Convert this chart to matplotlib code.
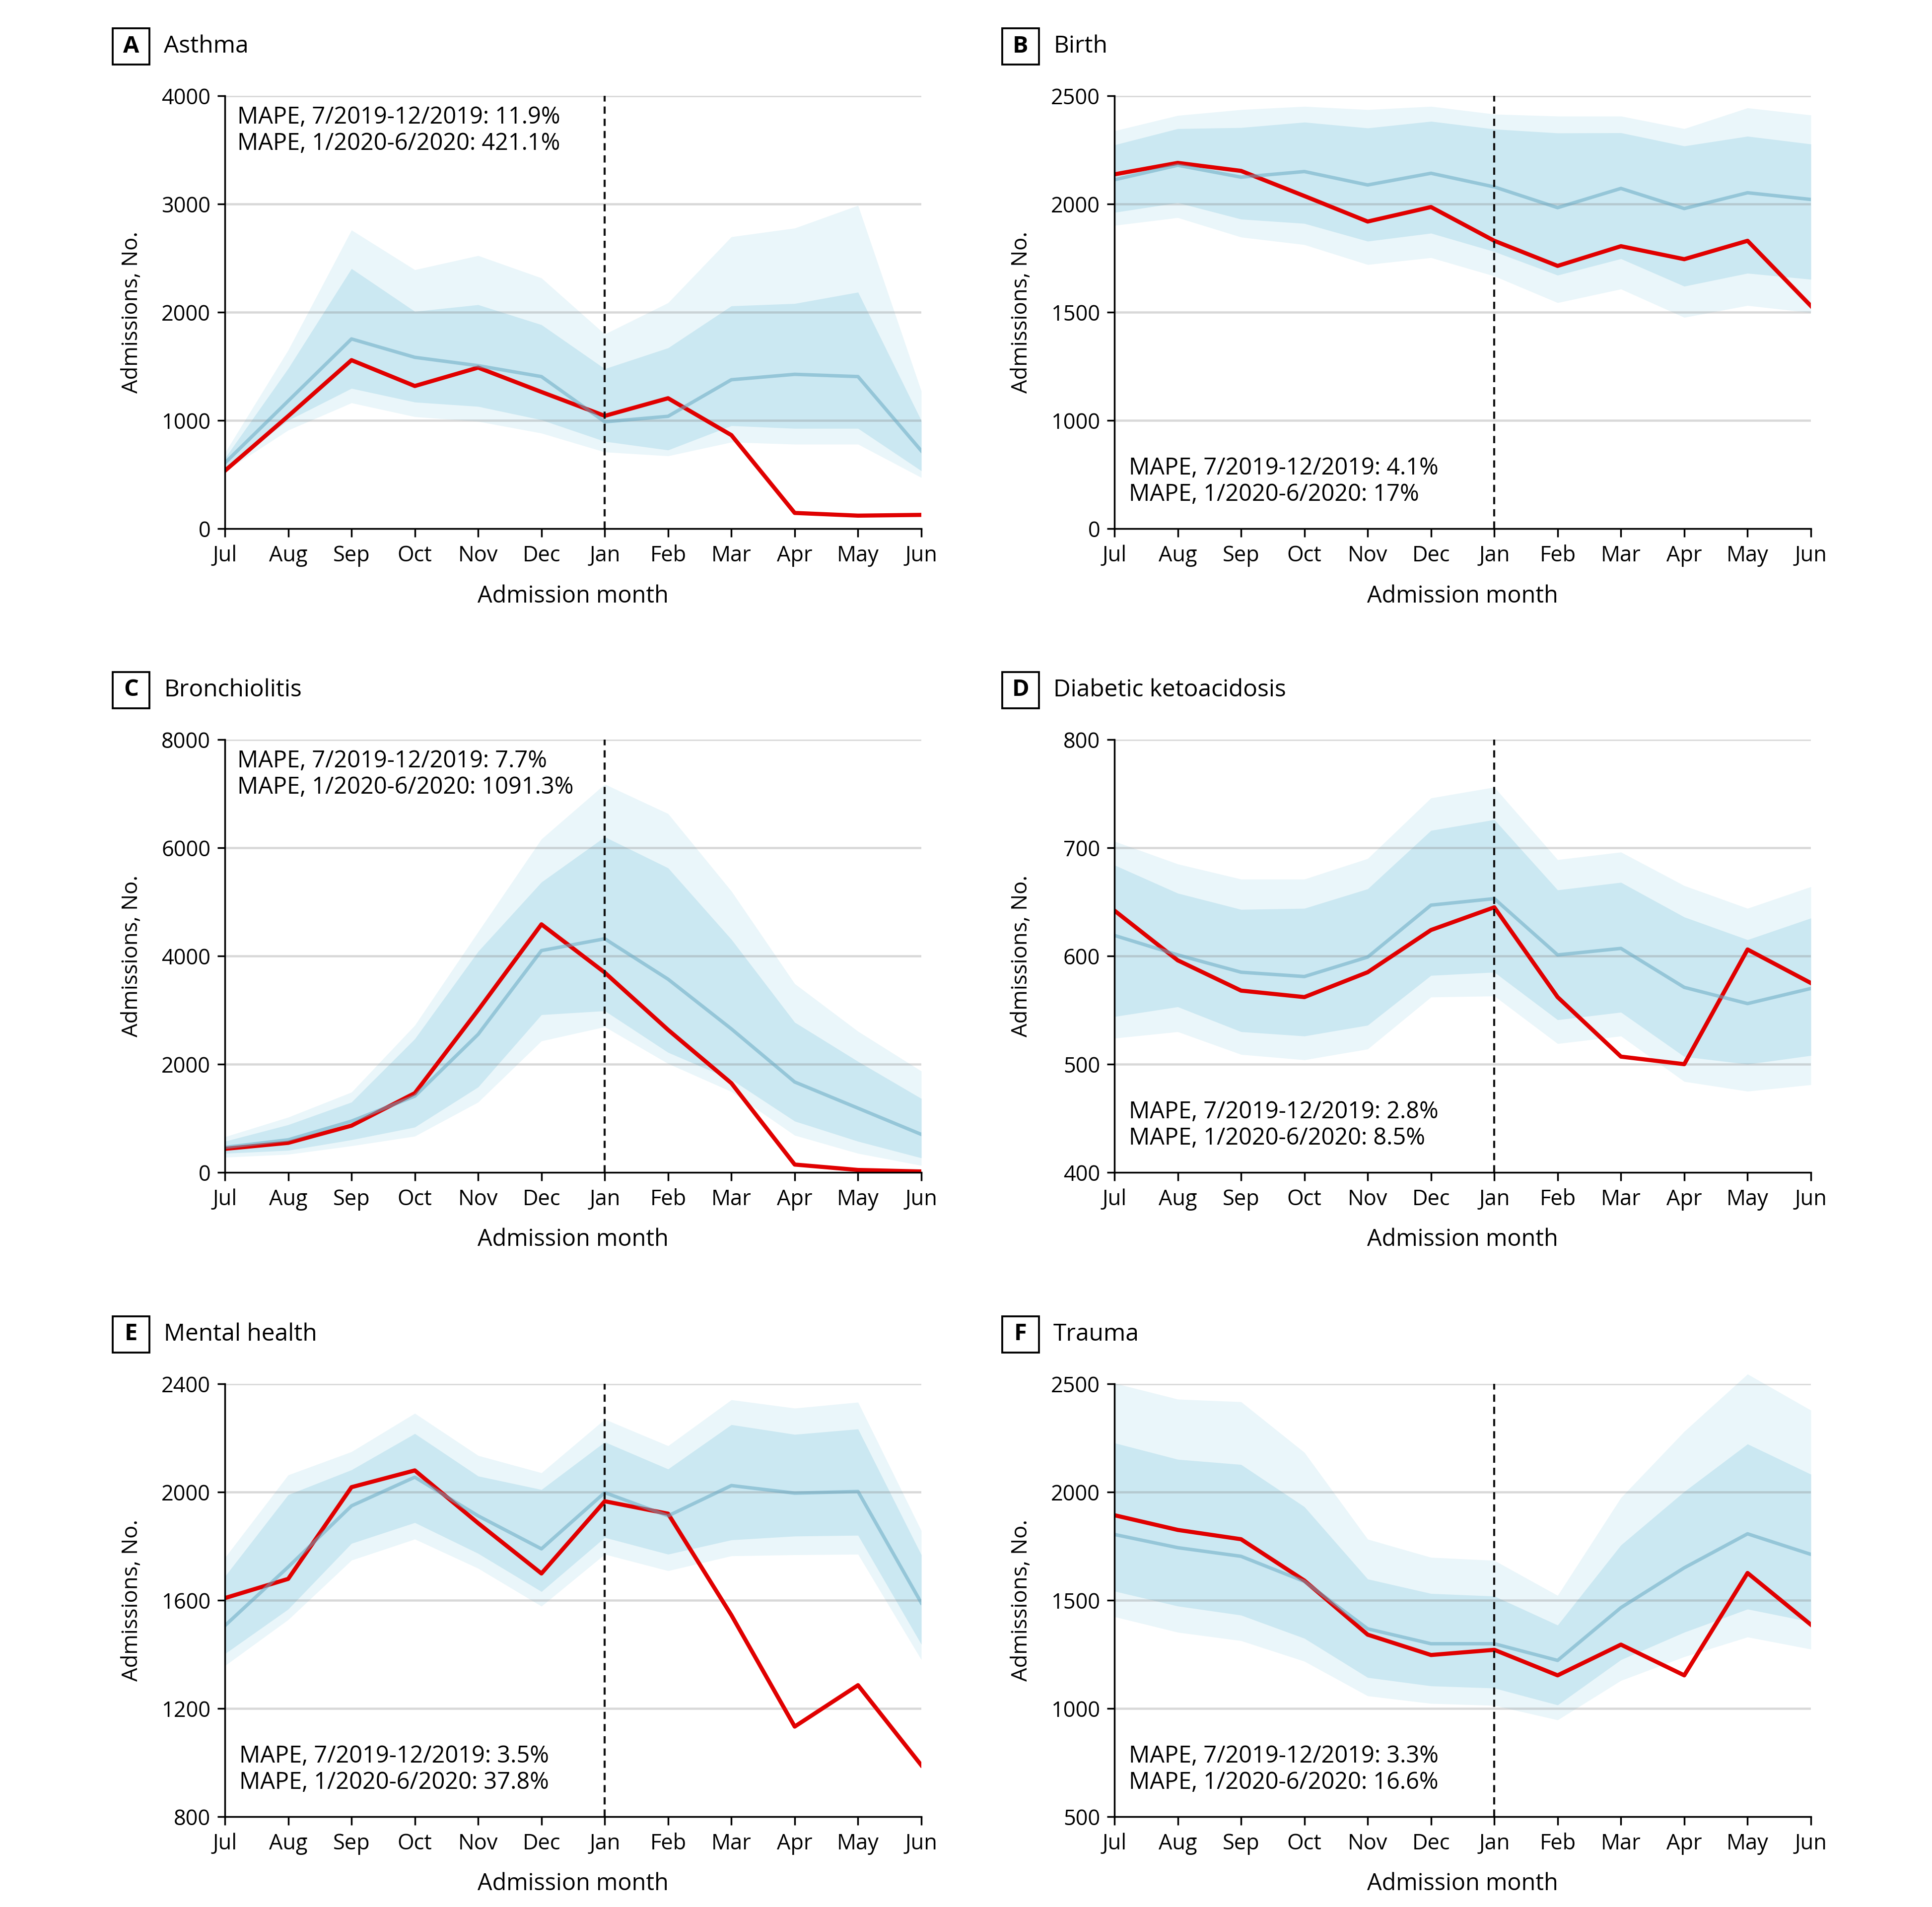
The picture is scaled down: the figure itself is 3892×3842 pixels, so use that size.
import numpy as np
import matplotlib.pyplot as plt
from matplotlib.patches import Rectangle

plt.rcParams['font.family'] = ['Open Sans', 'DejaVu Sans']

months = ['Jul', 'Aug', 'Sep', 'Oct', 'Nov', 'Dec', 'Jan', 'Feb', 'Mar', 'Apr', 'May', 'Jun']

# A Asthma
asthma_obs = [534, 1040, 1557, 1318, 1488, 1263, 1042, 1205, 864, 145, 120, 127]
asthma_pred = [606, 1180, 1753, 1583, 1506, 1405, 987, 1038, 1376, 1426, 1405, 719]
asthma_lo80 = [560, 1000, 1296, 1169, 1129, 1005, 806, 726, 951, 926, 926, 534]
asthma_hi80 = [650, 1480, 2403, 2007, 2069, 1884, 1477, 1670, 2058, 2080, 2185, 998]
asthma_lo95 = [530, 910, 1162, 1034, 991, 882, 708, 672, 799, 780, 780, 472]
asthma_hi95 = [700, 1650, 2759, 2392, 2523, 2316, 1797, 2087, 2697, 2777, 2987, 1270]

# B Birth
birth_obs = [2137, 2190, 2153, 2037, 1919, 1986, 1830, 1714, 1805, 1745, 1830, 1529]
birth_pred = [2112, 2179, 2124, 2150, 2088, 2142, 2079, 1983, 2072, 1979, 2052, 2021]
birth_lo80 = [1961, 2006, 1930, 1910, 1828, 1865, 1780, 1671, 1747, 1620, 1680, 1652]
birth_hi80 = [2273, 2348, 2353, 2378, 2351, 2382, 2346, 2328, 2329, 2268, 2313, 2277]
birth_lo95 = [1901, 1937, 1847, 1812, 1720, 1752, 1667, 1544, 1607, 1476, 1531, 1498]
birth_hi95 = [2338, 2409, 2436, 2451, 2436, 2451, 2415, 2406, 2406, 2348, 2444, 2411]

# C Bronchiolitis
bronch_obs = [435, 546, 864, 1465, 3000, 4585, 3694, 2635, 1649, 145, 45, 17]
bronch_pred = [462, 602, 947, 1409, 2552, 4100, 4318, 3571, 2652, 1671, 1187, 702]
bronch_lo80 = [351, 407, 602, 836, 1577, 2914, 2986, 2217, 1716, 947, 574, 267]
bronch_hi80 = [574, 880, 1298, 2468, 4084, 5365, 6201, 5627, 4306, 2774, 2050, 1365]
bronch_lo95 = [279, 334, 490, 669, 1298, 2429, 2691, 2011, 1493, 685, 351, 128]
bronch_hi95 = [657, 1019, 1482, 2719, 4446, 6162, 7175, 6630, 5198, 3487, 2607, 1872]

# D Diabetic ketoacidosis
dka_obs = [642, 596, 568, 562, 585, 624, 645, 562, 507, 500, 606, 575]
dka_pred = [619, 601, 585, 581, 599, 647, 653, 601, 607, 571, 556, 570]
dka_lo80 = [544, 553, 530, 526, 536, 582, 585, 541, 548, 507, 500, 508]
dka_hi80 = [684, 658, 643, 644, 662, 716, 726, 661, 668, 636, 615, 635]
dka_lo95 = [524, 530, 509, 504, 514, 562, 563, 519, 526, 484, 475, 481]
dka_hi95 = [706, 685, 671, 671, 690, 746, 756, 689, 696, 665, 644, 664]

# E Mental health
mental_obs = [1608, 1679, 2018, 2080, 1885, 1699, 1966, 1920, 1545, 1133, 1286, 990]
mental_pred = [1506, 1723, 1949, 2055, 1912, 1790, 1998, 1912, 2024, 1996, 2002, 1590]
mental_lo80 = [1402, 1567, 1810, 1887, 1773, 1632, 1832, 1770, 1823, 1837, 1840, 1437]
mental_hi80 = [1688, 1990, 2082, 2216, 2059, 2009, 2185, 2085, 2249, 2213, 2233, 1768]
mental_lo95 = [1358, 1528, 1748, 1826, 1718, 1578, 1770, 1709, 1764, 1768, 1770, 1380]
mental_hi95 = [1757, 2063, 2149, 2291, 2135, 2071, 2269, 2171, 2341, 2310, 2332, 1857]

# F Trauma
trauma_obs = [1893, 1825, 1782, 1591, 1341, 1247, 1271, 1153, 1295, 1153, 1626, 1387]
trauma_pred = [1804, 1743, 1703, 1587, 1368, 1299, 1299, 1222, 1466, 1650, 1807, 1712]
trauma_lo80 = [1542, 1473, 1431, 1324, 1143, 1104, 1094, 1016, 1225, 1352, 1459, 1400]
trauma_hi80 = [2227, 2151, 2127, 1932, 1598, 1531, 1519, 1385, 1755, 2002, 2222, 2082]
trauma_lo95 = [1424, 1352, 1313, 1218, 1058, 1023, 1014, 947, 1129, 1239, 1330, 1274]
trauma_hi95 = [2503, 2429, 2417, 2183, 1782, 1698, 1684, 1522, 1974, 2280, 2545, 2378]

panels = [
    dict(letter='A', title='Asthma', obs=asthma_obs, pred=asthma_pred,
         lo80=asthma_lo80, hi80=asthma_hi80, lo95=asthma_lo95, hi95=asthma_hi95,
         yticks=[0, 1000, 2000, 3000, 4000], mape=('11.9%', '421.1%'), where='top'),
    dict(letter='B', title='Birth', obs=birth_obs, pred=birth_pred,
         lo80=birth_lo80, hi80=birth_hi80, lo95=birth_lo95, hi95=birth_hi95,
         yticks=[0, 1000, 1500, 2000, 2500], mape=('4.1%', '17%'), where='bottom'),
    dict(letter='C', title='Bronchiolitis', obs=bronch_obs, pred=bronch_pred,
         lo80=bronch_lo80, hi80=bronch_hi80, lo95=bronch_lo95, hi95=bronch_hi95,
         yticks=[0, 2000, 4000, 6000, 8000], mape=('7.7%', '1091.3%'), where='top'),
    dict(letter='D', title='Diabetic ketoacidosis', obs=dka_obs, pred=dka_pred,
         lo80=dka_lo80, hi80=dka_hi80, lo95=dka_lo95, hi95=dka_hi95,
         yticks=[400, 500, 600, 700, 800], mape=('2.8%', '8.5%'), where='bottom'),
    dict(letter='E', title='Mental health', obs=mental_obs, pred=mental_pred,
         lo80=mental_lo80, hi80=mental_hi80, lo95=mental_lo95, hi95=mental_hi95,
         yticks=[800, 1200, 1600, 2000, 2400], mape=('3.5%', '37.8%'), where='bottom'),
    dict(letter='F', title='Trauma', obs=trauma_obs, pred=trauma_pred,
         lo80=trauma_lo80, hi80=trauma_hi80, lo95=trauma_lo95, hi95=trauma_hi95,
         yticks=[500, 1000, 1500, 2000, 2500], mape=('3.3%', '16.6%'), where='bottom'),
]

W, H = 3892, 3842
fig = plt.figure(figsize=(W / 250, H / 250), dpi=250)

col_left = [453, 2245]
row_top = [193, 1490, 2788]
ax_w, ax_h = 1403, 872

red = '#e00000'
blue_line = '#6aaac4'
band_in = '#cbe8f2'
band_out = '#eaf6fa'

x = np.arange(len(months))

for i, p in enumerate(panels):
    left = col_left[i % 2]
    top = row_top[i // 2]
    ax = fig.add_axes([left / W, 1 - (top + ax_h) / H, ax_w / W, ax_h / H])

    if p['letter'] == 'B':
        # panel B has evenly spaced ticks at 0, 1000, 1500, 2000, 2500
        bt = p['yticks']
        ax.set_yscale('function', functions=(lambda v, bt=bt: np.interp(v, bt, np.arange(len(bt))),
                                             lambda v, bt=bt: np.interp(v, np.arange(len(bt)), bt)))

    ax.fill_between(x, p['lo95'], p['hi95'], color=band_out, lw=0, zorder=1, clip_on=False)
    ax.fill_between(x, p['lo80'], p['hi80'], color=band_in, lw=0, zorder=1.2, clip_on=False)
    for t in p['yticks'][1:]:
        ax.axhline(t, color='#808080', alpha=0.3, lw=1.3, zorder=1.5)
    ax.plot(x, p['obs'], color=red, lw=2.4, zorder=3)
    ax.plot(x, p['pred'], color=blue_line, lw=2.0, alpha=0.55, zorder=3.5)
    ax.axvline(6, color='#111111', lw=1.2, ls=(0, (3.5, 2.4)), zorder=5)

    ax.set_xlim(0, 11)
    ax.set_ylim(p['yticks'][0], p['yticks'][-1])
    ax.set_xticks(x)
    ax.set_xticklabels(months)
    ax.set_yticks(p['yticks'])
    ax.set_yticklabels([str(t) for t in p['yticks']])
    ax.minorticks_off()
    ax.tick_params(axis='x', length=5.0, width=1, labelsize=12.5, pad=4.5, color='black')
    ax.tick_params(axis='y', length=4.3, width=1, labelsize=12.5, pad=4, color='black')
    for s in ['top', 'right']:
        ax.spines[s].set_visible(False)
    for s in ['left', 'bottom']:
        ax.spines[s].set_linewidth(1)
        ax.spines[s].set_zorder(6)

    ax.set_xlabel('Admission month', fontsize=13.5)
    ax.set_ylabel('Admissions, No.', fontsize=12.6)
    ax.xaxis.set_label_coords(0.5, -112 / ax_h)
    ax.yaxis.set_label_coords(-165 / ax_w, 0.5)

    txt = 'MAPE, 7/2019-12/2019: %s\nMAPE, 1/2020-6/2020: %s' % p['mape']
    if p['where'] == 'top':
        ax.text(0.018, 0.978, txt, transform=ax.transAxes, va='top', ha='left',
                fontsize=13.5, linespacing=1.15, zorder=7)
    else:
        ax.text(0.021, 0.052, txt, transform=ax.transAxes, va='bottom', ha='left',
                fontsize=13.5, linespacing=1.15, zorder=7)

    # panel letter box and title
    cy = top - 100
    fig.patches.append(Rectangle(((left - 226) / W, 1 - (cy + 37) / H), 74 / W, 73 / H,
                                 transform=fig.transFigure, fc='white', ec='black', lw=1.1))
    fig.text((left - 189) / W, 1 - cy / H, p['letter'], ha='center', va='center',
             fontsize=13.5, fontweight='bold')
    fig.text((left - 123) / W, 1 - cy / H, p['title'], ha='left', va='center', fontsize=13.8)

fig.savefig('out.png', dpi=250, facecolor='white')
